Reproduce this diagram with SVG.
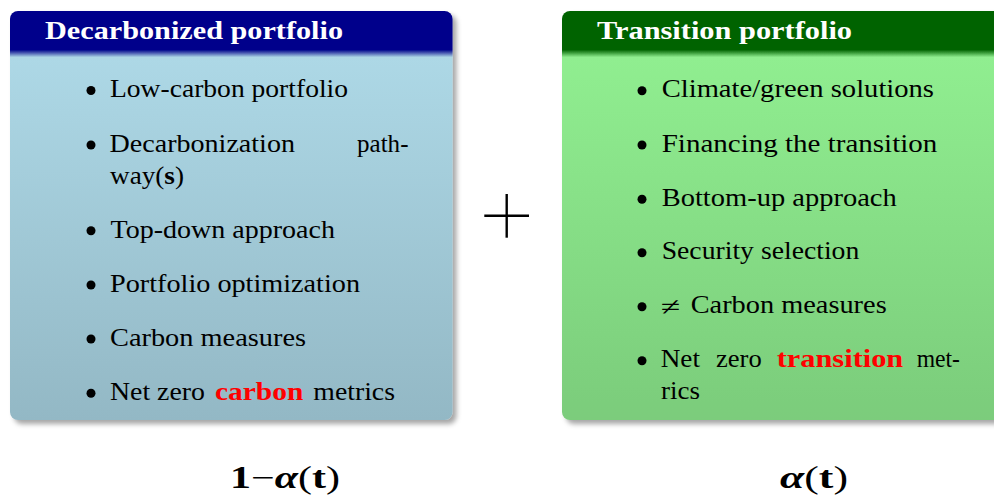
<svg xmlns="http://www.w3.org/2000/svg" width="994" height="495" viewBox="0 0 994 495">
  <style>
    .t { font-family: "Liberation Serif", "DejaVu Serif", serif; font-size: 25px; fill: #000; }
    .h { font-family: "Liberation Serif", "DejaVu Serif", serif; font-size: 26px; font-weight: bold; fill: #fff; }
    .red { fill: #ff0000; font-weight: bold; }
    .bd { font-weight: bold; }
    .m { font-family: "Liberation Serif", "DejaVu Serif", serif; font-size: 31px; fill: #000; }
    .bul { fill: #000; }
  </style>
  <defs>
    <linearGradient id="gBlue" gradientUnits="userSpaceOnUse" x1="0" y1="11" x2="0" y2="420">
      <stop offset="0" stop-color="#00008b"/>
      <stop offset="0.095" stop-color="#00008b"/>
      <stop offset="0.113" stop-color="#add8e6"/>
      <stop offset="1" stop-color="#93b8c5"/>
    </linearGradient>
    <linearGradient id="gGreen" gradientUnits="userSpaceOnUse" x1="0" y1="11" x2="0" y2="420">
      <stop offset="0" stop-color="#006400"/>
      <stop offset="0.095" stop-color="#006400"/>
      <stop offset="0.113" stop-color="#90ee90"/>
      <stop offset="1" stop-color="#7bcc7b"/>
    </linearGradient>
    <filter id="shadow" x="-5%" y="-5%" width="115%" height="115%">
      <feDropShadow dx="4" dy="4" stdDeviation="2.5" flood-color="#000" flood-opacity="0.35"/>
    </filter>
  </defs>

  <g id="connectors"></g>

  <g id="decarbonized">
    <rect x="10" y="11" width="442.5" height="409" rx="8" ry="8" fill="url(#gBlue)" filter="url(#shadow)"/>
    <text class="h" x="45" y="39" textLength="298" lengthAdjust="spacingAndGlyphs">Decarbonized portfolio</text>
    <circle class="bul" cx="91" cy="90.5" r="4.5"/>
    <text class="t" x="110" y="97" textLength="238" lengthAdjust="spacingAndGlyphs">Low-carbon portfolio</text>
    <circle class="bul" cx="91" cy="145" r="4.5"/>
    <text class="t" x="109.5" y="151.5" textLength="185.5" lengthAdjust="spacingAndGlyphs">Decarbonization</text>
    <text class="t" x="357" y="151.5" textLength="51.5" lengthAdjust="spacingAndGlyphs">path-</text>
    <text class="t" x="110" y="183.5" textLength="74" lengthAdjust="spacingAndGlyphs">way(<tspan class="bd">s</tspan>)</text>
    <circle class="bul" cx="91" cy="230.8" r="4.5"/>
    <text class="t" x="110.5" y="237.5" textLength="224.5" lengthAdjust="spacingAndGlyphs">Top-down approach</text>
    <circle class="bul" cx="91" cy="285" r="4.5"/>
    <text class="t" x="110" y="291.7" textLength="250" lengthAdjust="spacingAndGlyphs">Portfolio optimization</text>
    <circle class="bul" cx="91" cy="339" r="4.5"/>
    <text class="t" x="110" y="345.7" textLength="196" lengthAdjust="spacingAndGlyphs">Carbon measures</text>
    <circle class="bul" cx="91" cy="393.3" r="4.5"/>
    <text class="t" x="110" y="400" textLength="95" lengthAdjust="spacingAndGlyphs">Net zero</text>
    <text class="t red" x="215" y="400" textLength="88.3" lengthAdjust="spacingAndGlyphs">carbon</text>
    <text class="t" x="313.3" y="400" textLength="81.7" lengthAdjust="spacingAndGlyphs">metrics</text>
  </g>

  <g id="transition">
    <rect x="562" y="11" width="443" height="409" rx="8" ry="8" fill="url(#gGreen)" filter="url(#shadow)"/>
    <text class="h" x="597" y="38.5" textLength="255" lengthAdjust="spacingAndGlyphs">Transition portfolio</text>
    <circle class="bul" cx="642" cy="90.7" r="4.5"/>
    <text class="t" x="661.7" y="97.3" textLength="272.3" lengthAdjust="spacingAndGlyphs">Climate/green solutions</text>
    <circle class="bul" cx="642" cy="145" r="4.5"/>
    <text class="t" x="661.7" y="151.7" textLength="275.6" lengthAdjust="spacingAndGlyphs">Financing the transition</text>
    <circle class="bul" cx="642" cy="199.3" r="4.5"/>
    <text class="t" x="661.7" y="206" textLength="235" lengthAdjust="spacingAndGlyphs">Bottom-up approach</text>
    <circle class="bul" cx="642" cy="252.7" r="4.5"/>
    <text class="t" x="661.7" y="259.3" textLength="197.6" lengthAdjust="spacingAndGlyphs">Security selection</text>
    <circle class="bul" cx="642" cy="306.7" r="4.5"/>
    <text class="t" x="660.7" y="315" font-size="34" textLength="19.5" lengthAdjust="spacingAndGlyphs">≠</text>
    <text class="t" x="690.7" y="313.3" textLength="196" lengthAdjust="spacingAndGlyphs">Carbon measures</text>
    <circle class="bul" cx="642" cy="360.7" r="4.5"/>
    <text class="t" x="660.7" y="367.3" textLength="39.3" lengthAdjust="spacingAndGlyphs">Net</text>
    <text class="t" x="716" y="367.3" textLength="45.7" lengthAdjust="spacingAndGlyphs">zero</text>
    <text class="t red" x="776.7" y="367.3" textLength="126.6" lengthAdjust="spacingAndGlyphs">transition</text>
    <text class="t" x="916.7" y="367.3" textLength="43.3" lengthAdjust="spacingAndGlyphs">met-</text>
    <text class="t" x="661" y="398.5" textLength="39" lengthAdjust="spacingAndGlyphs">rics</text>
  </g>

  <g id="plus">
    <line x1="484.3" y1="215.7" x2="529" y2="215.7" stroke="#000" stroke-width="2.4"/>
    <line x1="506.7" y1="194" x2="506.7" y2="237.7" stroke="#000" stroke-width="2.4"/>
  </g>

  <g id="weight-left">
    <text class="m" x="230" y="488" textLength="110" lengthAdjust="spacingAndGlyphs"><tspan class="bd">1</tspan>−<tspan class="bd" font-style="italic">α</tspan>(<tspan class="bd">t</tspan>)</text>
  </g>

  <g id="weight-right">
    <text class="m" x="780" y="488" textLength="68" lengthAdjust="spacingAndGlyphs"><tspan class="bd" font-style="italic">α</tspan>(<tspan class="bd">t</tspan>)</text>
  </g>
</svg>
